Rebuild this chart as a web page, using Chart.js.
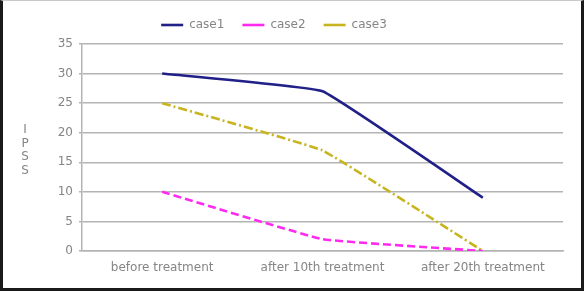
<!DOCTYPE html>
<html>
<head>
<meta charset="utf-8">
<script src="https://cdn.jsdelivr.net/npm/chart.js@4.4.0/dist/chart.umd.min.js"></script>
<style>
  html, body { margin: 0; padding: 0; background: #fff; }
  #frame {
    width: 584px; height: 291px; box-sizing: border-box;
    border-left: 3px solid #1a1a1a; border-right: 3px solid #1a1a1a;
    border-bottom: 3px solid #1a1a1a; border-top: 1px solid #c8c8c8;
    position: relative;
  }
  #chart { display: block; }
</style>
</head>
<body>
<div id="frame"><canvas id="chart" width="578" height="287"></canvas></div>
<script>
// IPSS scores per treatment stage
const stages = ["before treatment", "after 10th treatment", "after 20th treatment"];
const case1 = [30, 27, 9];
const case2 = [10, 2, 0];
const case3 = [25, 17, 0];

const TEXT = "#858585";
const GRID = "#b4b4b4";
const FONT = "'DejaVu Sans', sans-serif";

// draws the stacked "I P S S" axis title
const stackedTitle = {
  id: "stackedTitle",
  afterDraw(chart) {
    const ctx = chart.ctx;
    const letters = ["I", "P", "S", "S"];
    ctx.save();
    ctx.font = "12px " + FONT;
    ctx.fillStyle = TEXT;
    ctx.textAlign = "center";
    ctx.textBaseline = "middle";
    letters.forEach((l, i) => ctx.fillText(l, 22, 129 + i * 13.5));
    ctx.restore();
  },
};

// give the legend some extra room below it and nudge it left
const legendTweak = {
  id: "legendTweak",
  beforeInit(chart) {
    const fit = chart.legend.fit;
    chart.legend.fit = function () {
      fit.call(this);
      this.height += 3;
    };
  },
  beforeDraw(chart) {
    if (!chart.legend._nudged) {
      chart.legend.right -= 18;
      chart.legend._nudged = true;
    }
  },
};

function lineSet(label, data, color, dash) {
  return {
    label,
    data,
    borderColor: color,
    backgroundColor: color,
    borderWidth: 2.6,
    borderDash: dash,
    pointRadius: 0,
    tension: 0.08,
    fill: false,
  };
}

new Chart(document.getElementById("chart"), {
  type: "line",
  data: {
    labels: stages,
    datasets: [
      lineSet("case1", case1, "#202088", []),
      lineSet("case2", case2, "#ff2af0", [8, 4]),
      lineSet("case3", case3, "#c8b41e", [9, 3, 2, 3]),
    ],
  },
  options: {
    responsive: false,
    animation: false,
    layout: { padding: { top: 0, right: 18, left: 0, bottom: 0 } },
    plugins: {
      legend: {
        labels: {
          color: TEXT,
          font: { size: 12, family: FONT },
          usePointStyle: true,
          pointStyle: "line",
          pointStyleWidth: 22,
          boxHeight: 3,
          padding: 18,
        },
      },
      tooltip: { enabled: false },
    },
    scales: {
      x: {
        offset: true,
        grid: { display: false, drawTicks: false },
        border: { display: true, color: GRID, width: 1.5 },
        ticks: {
          color: TEXT, padding: 10, maxRotation: 0,
          font: { size: 12, family: FONT },
        },
        afterFit: (s) => { s.height = 37; },
      },
      y: {
        min: 0, max: 35,
        grid: { color: GRID, lineWidth: 1.5, tickLength: 3 },
        border: { display: true, color: GRID, width: 1.5 },
        ticks: {
          stepSize: 5, color: TEXT, padding: 6,
          font: { size: 12, family: FONT },
        },
        afterFit: (s) => { s.width = 79; },
      },
    },
  },
  plugins: [stackedTitle, legendTweak],
});
</script>
</body>
</html>
